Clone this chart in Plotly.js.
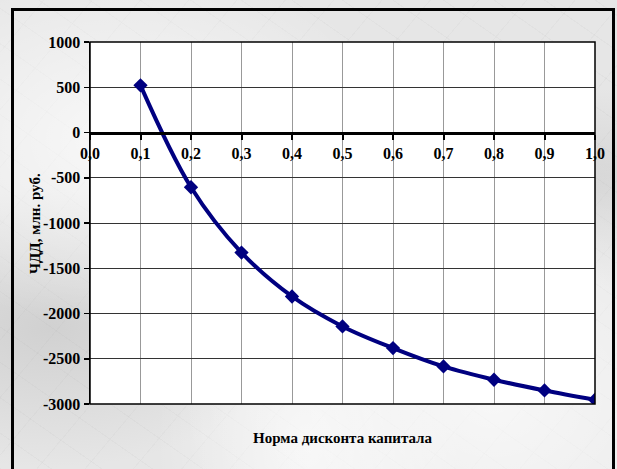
<!DOCTYPE html>
<html>
<head>
<meta charset="utf-8">
<script src="https://cdn.plot.ly/plotly-3.0.1.min.js"></script>
<style>
html,body{margin:0;padding:0;width:617px;height:469px;overflow:hidden;}
#bg{position:absolute;left:0;top:0;width:617px;height:469px;
background-color:#e6e6e6;
background-image:
 radial-gradient(ellipse at 20% 30%, rgba(255,255,255,0.75) 0%, rgba(255,255,255,0) 40%),
 radial-gradient(ellipse at 80% 85%, rgba(255,255,255,0.7) 0%, rgba(255,255,255,0) 45%),
 radial-gradient(ellipse at 50% 95%, rgba(255,255,255,0.6) 0%, rgba(255,255,255,0) 35%),
 radial-gradient(ellipse at 8% 70%, rgba(160,160,160,0.30) 0%, rgba(160,160,160,0) 30%),
 radial-gradient(ellipse at 95% 40%, rgba(160,160,160,0.25) 0%, rgba(160,160,160,0) 25%),
 repeating-linear-gradient(35deg, rgba(130,130,130,0.05) 0px, rgba(130,130,130,0.05) 1px, rgba(255,255,255,0) 1px, rgba(255,255,255,0) 29px),
 repeating-linear-gradient(-50deg, rgba(140,140,140,0.05) 0px, rgba(140,140,140,0.05) 1px, rgba(255,255,255,0) 1px, rgba(255,255,255,0) 37px);}
#frame{position:absolute;left:11px;top:8px;width:598px;height:470px;border-left:3px solid #000;border-top:3px solid #000;border-right:3px solid #000;}
#chart{position:absolute;left:0;top:0;width:617px;height:469px;}
</style>
</head>
<body>
<div id="bg"></div>
<div id="frame"></div>
<div id="chart"></div>
<script>
// Data
const discountRates = [0.1, 0.2, 0.3, 0.4, 0.5, 0.6, 0.7, 0.8, 0.9, 1.0];
const npvValues = [521, -605, -1327, -1812, -2143, -2382, -2585, -2732, -2850, -2953];
const xTickValues = [0, 0.1, 0.2, 0.3, 0.4, 0.5, 0.6, 0.7, 0.8, 0.9, 1.0];
const xTickLabels = ['0,0', '0,1', '0,2', '0,3', '0,4', '0,5', '0,6', '0,7', '0,8', '0,9', '1,0'];
const yTickValues = [1000, 500, 0, -500, -1000, -1500, -2000, -2500, -3000];
const yTickLabels = ['1000', '500', '0', '-500', '-1000', '-1500', '-2000', '-2500', '-3000'];
const xTitle = 'Норма дисконта капитала';
const yTitle = 'ЧДД, млн. руб.';

const fam = '"Liberation Serif", "Times New Roman", serif';
const tickFont = {family: fam, size: 16, color: '#000', weight: 'bold'};
const titleFont = {family: fam, size: 15, color: '#000', weight: 'bold'};

const trace = {
  x: discountRates,
  y: npvValues,
  type: 'scatter',
  mode: 'lines+markers',
  line: {color: '#000080', width: 4, shape: 'spline', smoothing: 1},
  marker: {symbol: 'diamond', size: 11, color: '#000080'},
  hoverinfo: 'skip',
  showlegend: false
};

const layout = {
  width: 617,
  height: 469,
  margin: {l: 90, r: 22, t: 42, b: 65, pad: 0},
  paper_bgcolor: 'rgba(0,0,0,0)',
  plot_bgcolor: '#ffffff',
  font: tickFont,
  xaxis: {
    range: [0, 1],
    tickvals: xTickValues,
    ticktext: xTickLabels,
    anchor: 'free',
    position: 0.75,
    showline: true,
    linecolor: '#000',
    linewidth: 3,
    ticks: 'outside',
    ticklen: 5,
    tickwidth: 2,
    tickcolor: '#000',
    showgrid: true,
    gridcolor: '#999',
    gridwidth: 1,
    zeroline: false,
    tickfont: tickFont,
    title: {text: ''}
  },
  yaxis: {
    range: [-3000, 1000],
    domain: [0, 1],
    tickvals: yTickValues,
    ticktext: yTickLabels,
    showline: true,
    linecolor: '#000',
    linewidth: 1.5,
    ticks: 'outside',
    ticklen: 5,
    tickwidth: 1.5,
    tickcolor: '#000',
    showgrid: true,
    gridcolor: '#333',
    gridwidth: 1,
    zeroline: false,
    tickfont: tickFont,
    title: {text: ''}
  },
  shapes: [
    {type: 'rect', xref: 'paper', yref: 'paper', x0: 0, x1: 1, y0: 0, y1: 1,
     line: {color: '#000', width: 1.5}, fillcolor: 'rgba(0,0,0,0)', layer: 'above'}
  ],
  annotations: [
    {text: xTitle, xref: 'paper', yref: 'paper', x: 0.5, y: -0.095, yanchor: 'middle',
     showarrow: false, font: titleFont},
    {text: yTitle, xref: 'paper', yref: 'paper', x: -0.109, y: 0.5, xanchor: 'center', yanchor: 'middle',
     textangle: -90, showarrow: false, font: titleFont}
  ]
};

Plotly.newPlot('chart', [trace], layout, {displayModeBar: false, staticPlot: true});
</script>
</body>
</html>
